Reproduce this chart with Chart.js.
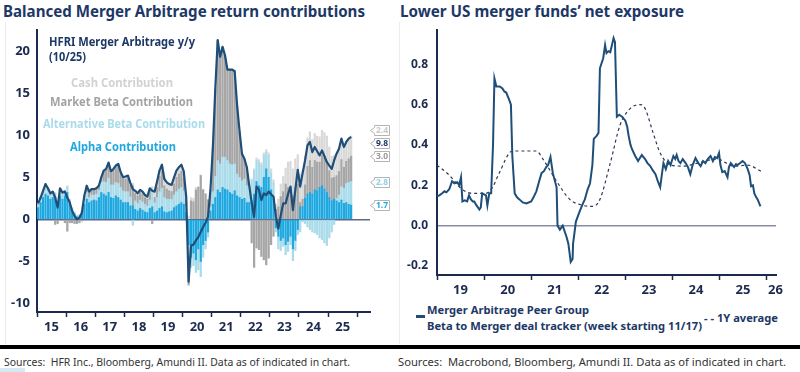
<!DOCTYPE html>
<html>
<head>
<meta charset="utf-8">
<script src="https://cdn.jsdelivr.net/npm/chart.js@4.4.1/dist/chart.umd.min.js"></script>
<style>
  html, body { margin: 0; padding: 0; }
  body { width: 800px; height: 372px; position: relative; overflow: hidden; background: #fff; font-family: 'Noto Sans', sans-serif; }
  .txt { position: absolute; white-space: nowrap; transform-origin: 0 50%; }
  .title { font-weight: 700; font-size: 16.5px; line-height: 20px; color: #1d3866; }
  .lbl { font-weight: 700; font-size: 12px; line-height: 15px; }
  .leg { font-weight: 700; font-size: 11px; line-height: 14px; color: #1d3866; }
  .src { font-size: 11px; line-height: 14px; color: #333; }
  canvas { position: absolute; }
  .rule { position: absolute; }
</style>
</head>
<body>
<div class="txt title" data-w="362" style="left:3px;top:1px">Balanced Merger Arbitrage return contributions</div>
<div class="txt title" data-w="284" style="left:400px;top:1px">Lower US merger funds’ net exposure</div>

<div class="rule" style="left:5px;top:22px;width:1px;height:322px;background:#ececec"></div>
<div class="rule" style="left:399px;top:22px;width:1px;height:322px;background:#ececec"></div>

<canvas id="contribChart" width="400" height="320" style="left:0;top:25px"></canvas>
<canvas id="betaChart" width="400" height="275" style="left:400px;top:25px"></canvas>

<!-- left chart labels -->
<div class="txt lbl" data-w="146" style="left:49px;top:34px;color:#1d3866">HFRI Merger Arbitrage y/y</div>
<div class="txt lbl" data-w="37" style="left:49px;top:49px;color:#1d3866">(10/25)</div>
<div class="txt lbl" data-w="102" style="left:71px;top:75px;color:#d2d2d2">Cash Contribution</div>
<div class="txt lbl" data-w="143" style="left:50px;top:94px;color:#a3a3a3">Market Beta Contribution</div>
<div class="txt lbl" data-w="162" style="left:43px;top:116px;color:#a9dbea">Alternative Beta Contribution</div>
<div class="txt lbl" data-w="106" style="left:70px;top:139px;color:#1fa8e0">Alpha Contribution</div>

<!-- right chart legend -->
<div class="rule" style="left:416px;top:315px;width:9px;height:2.5px;background:#1f4e79"></div>
<div class="txt leg" data-w="162" style="left:427px;top:303px">Merger Arbitrage Peer Group</div>
<div class="txt leg" data-w="275" style="left:427px;top:319px">Beta to Merger deal tracker (week starting 11/17)</div>
<div class="txt leg" data-w="74" style="left:704px;top:311px">- - 1Y average</div>

<div class="rule" style="left:0;top:345px;width:800px;height:4px;background:#000"></div>
<div class="txt src" data-w="346" style="left:4px;top:355px">Sources:&nbsp; HFR Inc., Bloomberg, Amundi II. Data as of indicated in chart.</div>
<div class="txt src" data-w="388" style="left:398px;top:355px">Sources:&nbsp; Macrobond, Bloomberg, Amundi II. Data as of indicated in chart.</div>
<div class="rule" style="left:0;top:368px;width:25px;height:4px;background:#d5e8f3"></div>

<script>
// ---- left chart: monthly y/y contributions, Jan 2015 .. Oct 2025 ----
const contribStartYear = 2015;
const contribYears = [2015, 2016, 2017, 2018, 2019, 2020, 2021, 2022, 2023, 2024, 2025];
const contribYearLabels = ['15', '16', '17', '18', '19', '20', '21', '22', '23', '24', '25'];
const contribYTicks = [-10, -5, 0, 5, 10, 15, 20];

const hfriYoY = [
  1.9, 2.6, 3.4, 4.2, 3.7, 3.1, 3.3, 2.6, 1.4, 3.7, 3.2, 3.3,
  2.6, 2.0, 1.0, 0.4, 0.0, 0.2, 0.8, 2.8, 4.0, 3.3, 3.6, 3.6,
  3.7, 4.0, 5.0, 5.8, 6.0, 6.75, 5.7, 6.0, 6.4, 6.6, 5.6, 5.0,
  5.1, 5.2, 4.3, 3.6, 3.4, 3.1, 3.5, 3.3, 2.9, 2.7, 3.7, 3.4,
  3.3, 4.5, 5.8, 6.5, 4.8, 4.4, 4.2, 4.1, 5.0, 5.8, 6.2, 6.5,
  5.7, 2.7, -7.4, -3.1, -3.0, -2.5, -2.1, -1.5, -0.9, -0.4, 0.3, 3.5,
  8.5, 15.5, 21.3, 19.3, 20.5, 19.5, 17.8, 17.8, 17.8, 17.6, 13.5, 10.5,
  7.8, 7.2, 6.2, 4.0, 2.0, 0.3, 3.9, 3.5, 2.3, 3.1, 2.9, 3.3,
  3.0, 2.7, 0.3, -1.1, 0.5, 1.9, 1.9, 3.0, 3.9, 1.1, 3.5, 5.9,
  3.9, 5.5, 7.0, 8.8, 9.2, 8.0, 8.6, 8.1, 7.6, 8.2, 7.5, 6.8,
  6.4, 6.0, 7.0, 7.8, 8.4, 9.6, 8.6, 9.2, 9.6, 9.8
];
const alphaContrib = [
  1.4, 2.0, 2.6, 3.0, 2.8, 2.4, 2.6, 2.6, 1.6, 2.8, 2.4, 2.8,
  3.2, 1.8, 0.9, 0.6, 0.3, 0.3, 0.6, 1.8, 2.4, 2.0, 2.2, 2.3,
  2.2, 2.6, 3.2, 3.0, 2.8, 3.2, 2.6, 2.5, 2.8, 2.6, 2.3, 2.0,
  2.0, 2.0, 1.6, 1.6, 1.2, 1.0, 1.3, 1.1, 0.9, 0.8, 1.3, 1.5,
  0.8, 1.0, 1.3, 1.5, 0.9, 0.8, 0.9, 1.0, 1.4, 1.6, 1.8, 2.0,
  1.8, 0.8, -3.0, -4.5, -4.0, -4.8, -3.5, -5.0, -3.0, -2.5, -1.5, 1.0,
  1.8, 2.6, 3.5, 3.2, 3.8, 3.6, 3.5, 3.2, 3.0, 3.4, 2.8, 2.6,
  2.4, 2.5, 2.0, 2.0, 2.2, 3.0, 4.5, 4.0, 3.8, 5.0, 6.0, 5.0,
  3.5, 2.5, -1.0, -2.0, -2.5, -2.2, -3.0, -2.6, -2.0, -3.5, -2.5, -1.2,
  1.5, 1.5, 2.5, 3.0, 3.2, 3.0, 3.5, 3.4, 3.8, 4.0, 3.6, 3.2,
  2.6, 2.2, 2.4, 2.2, 2.0, 2.3, 1.9, 2.0, 1.8, 1.7
];
const altBetaContrib = [
  0.3, 0.4, 0.5, 0.8, 0.6, 0.5, 0.4, 0.5, 0.3, 0.5, 0.6, 0.6,
  0.7, 0.5, 0.4, 0.2, 0.1, 0.2, 0.3, 0.6, 0.8, 0.6, 0.7, 0.6,
  0.8, 0.9, 1.2, 1.5, 1.6, 1.7, 1.5, 1.6, 1.6, 1.7, 1.5, 1.4,
  1.3, 1.3, 1.1, -0.7, 1.0, 0.9, 1.0, 1.0, 0.9, 0.8, 1.0, 2.0,
  1.2, 1.6, 2.0, 2.2, 1.7, 1.6, 1.5, 1.4, 1.5, 1.7, 1.8, 1.8,
  1.6, 0.8, -2.5, -1.2, -1.5, -1.5, -2.5, -1.8, -1.5, -1.0, -0.6, 0.5,
  1.5, 2.5, 3.5, 3.4, 3.6, 3.8, 3.5, 3.4, 3.5, 3.2, 2.6, 2.4,
  2.2, 2.3, 2.0, 1.8, 2.4, 2.8, 2.5, 2.8, 2.6, 2.6, 2.0, 2.6,
  2.0, 1.8, -0.5, -1.5, -1.2, -1.0, -1.2, -1.2, -1.0, -1.4, -1.2, -0.6,
  -1.5, -0.3, -0.5, -0.9, -1.2, -1.5, -1.6, -1.8, -2.2, -2.4, -2.8, -3.1,
  -2.2, -1.5, -0.6, 0.3, 0.9, 1.6, 1.8, 2.3, 2.6, 2.8
];
const mktBetaContrib = [
  0.2, 0.2, 0.3, 0.4, 0.3, 0.2, 0.3, -0.6, -0.5, 0.4, 0.2, -0.4,
  -1.4, -0.4, -0.4, -0.5, -0.5, -0.4, -0.2, 0.3, 0.7, 0.6, 0.6, 0.6,
  0.6, 0.4, 0.5, 1.2, 1.5, 1.7, 1.4, 1.7, 1.8, 2.1, 1.6, 1.4,
  1.5, 1.6, 1.3, 2.4, 0.9, 0.9, 0.9, 0.9, 0.8, 0.8, 1.1, -0.5,
  0.6, 1.2, 1.8, 2.0, 1.4, 1.2, 1.0, 0.9, 1.3, 1.7, 1.8, 1.9,
  1.5, 0.5, -2.3, 2.2, 2.1, 3.5, 3.8, 5.2, 3.5, 3.0, 2.3, 1.9,
  5.1, 10.3, 14.2, 12.6, 13.0, 12.0, 10.7, 11.1, 11.2, 10.9, 8.0, 5.4,
  3.1, 2.3, 2.1, 0.1, -2.8, -5.7, -3.4, -3.6, -4.4, -4.8, -5.4, -4.6,
  -3.0, -2.0, 1.2, 1.5, 2.7, 3.3, 4.2, 3.8, 3.8, 2.8, 3.8, 4.2,
  0.5, 0.9, 1.6, 3.3, 3.8, 3.2, 3.5, 3.4, 3.0, 3.6, 3.7, 3.7,
  3.2, 2.7, 2.6, 2.7, 2.8, 3.2, 2.5, 2.6, 2.8, 3.0
];
const cashContrib = [
  0, 0, 0, 0, 0, 0, 0, 0.1, 0, 0, 0, 0.1,
  0.1, 0.1, 0.1, 0.1, 0.1, 0.1, 0.1, 0.1, 0.1, 0.1, 0.1, 0.1,
  0.1, 0.1, 0.1, 0.1, 0.1, 0.15, 0.2, 0.2, 0.2, 0.2, 0.2, 0.2,
  0.3, 0.3, 0.3, 0.3, 0.3, 0.3, 0.3, 0.3, 0.3, 0.3, 0.3, 0.4,
  0.7, 0.7, 0.7, 0.8, 0.8, 0.8, 0.8, 0.8, 0.8, 0.8, 0.8, 0.8,
  0.8, 0.6, 0.4, 0.4, 0.4, 0.3, 0.1, 0.1, 0.1, 0.1, 0.1, 0.1,
  0.1, 0.1, 0.1, 0.1, 0.1, 0.1, 0.1, 0.1, 0.1, 0.1, 0.1, 0.1,
  0.1, 0.1, 0.1, 0.1, 0.2, 0.2, 0.3, 0.3, 0.3, 0.3, 0.3, 0.3,
  0.5, 0.4, 0.6, 0.9, 1.5, 1.8, 1.9, 3.0, 3.1, 3.2, 3.4, 3.5,
  3.4, 3.4, 3.4, 3.4, 3.4, 3.3, 3.2, 3.1, 3.0, 3.0, 3.0, 3.0,
  2.8, 2.6, 2.6, 2.6, 2.7, 2.5, 2.4, 2.3, 2.4, 2.4
];

// ---- right chart: beta to merger deal tracker ----
const betaYears = [2019, 2020, 2021, 2022, 2023, 2024, 2025, 2026];
const betaYearLabels = ['19', '20', '21', '22', '23', '24', '25', '26'];
const betaYTicks = [-0.2, 0, 0.2, 0.4, 0.6, 0.8];

const betaDates = [
  2019.00, 2019.05, 2019.11, 2019.16, 2019.20, 2019.26, 2019.29, 2019.32, 2019.37, 2019.43,
  2019.47, 2019.51, 2019.54, 2019.59, 2019.64, 2019.68, 2019.72, 2019.76, 2019.79, 2019.84,
  2019.90, 2019.93, 2019.96, 2020.00, 2020.04, 2020.07, 2020.11, 2020.15, 2020.19, 2020.22,
  2020.26, 2020.33, 2020.39, 2020.43, 2020.47, 2020.54, 2020.57, 2020.60, 2020.65, 2020.70,
  2020.75, 2020.82, 2020.90, 2021.00, 2021.05, 2021.11, 2021.17, 2021.22, 2021.27, 2021.32,
  2021.36, 2021.41, 2021.46, 2021.54, 2021.56, 2021.61, 2021.67, 2021.75, 2021.79, 2021.84,
  2021.88, 2021.89, 2021.95, 2022.03, 2022.10, 2022.14, 2022.20, 2022.25, 2022.30, 2022.33,
  2022.39, 2022.43, 2022.46, 2022.53, 2022.57, 2022.60, 2022.64, 2022.68, 2022.75, 2022.78,
  2022.82, 2022.87, 2022.93, 2023.00, 2023.04, 2023.07, 2023.11, 2023.14, 2023.18, 2023.21,
  2023.27, 2023.31, 2023.35, 2023.42, 2023.47, 2023.53, 2023.58, 2023.64, 2023.69, 2023.74,
  2023.78, 2023.81, 2023.86, 2023.91, 2023.96, 2024.02, 2024.06, 2024.09, 2024.13, 2024.17,
  2024.22, 2024.28, 2024.33, 2024.38, 2024.43, 2024.49, 2024.55, 2024.60, 2024.65, 2024.70,
  2024.75, 2024.81, 2024.86, 2024.90, 2024.95, 2024.99, 2025.02, 2025.06, 2025.11, 2025.17,
  2025.20, 2025.24, 2025.31, 2025.35, 2025.38, 2025.44, 2025.49, 2025.54, 2025.60, 2025.64,
  2025.67, 2025.71, 2025.74, 2025.78, 2025.81, 2025.87
];
const betaValues = [
  0.145, 0.15, 0.16, 0.17, 0.165, 0.18, 0.20, 0.22, 0.21, 0.215,
  0.20, 0.24, 0.12, 0.125, 0.12, 0.15, 0.13, 0.12, 0.12, 0.10,
  0.08, 0.09, 0.16, 0.155, 0.15, 0.10, 0.16, 0.16, 0.40, 0.73,
  0.69, 0.69, 0.68, 0.665, 0.66, 0.62, 0.60, 0.345, 0.16, 0.14,
  0.13, 0.115, 0.11, 0.12, 0.14, 0.17, 0.22, 0.26, 0.27, 0.29,
  0.30, 0.34, 0.26, 0.19, 0.0, -0.02, 0.0, -0.055, -0.09, -0.18,
  -0.165, -0.09, 0.02, 0.07, 0.11, 0.13, 0.18, 0.21, 0.30, 0.43,
  0.445, 0.46, 0.78, 0.83, 0.895, 0.855, 0.865, 0.86, 0.93, 0.91,
  0.54, 0.55, 0.54, 0.52, 0.49, 0.445, 0.40, 0.38, 0.36, 0.345,
  0.32, 0.335, 0.35, 0.33, 0.31, 0.295, 0.275, 0.255, 0.22, 0.19,
  0.26, 0.31, 0.28, 0.32, 0.30, 0.345, 0.33, 0.35, 0.32, 0.31,
  0.33, 0.31, 0.29, 0.255, 0.30, 0.335, 0.31, 0.295, 0.32, 0.31,
  0.33, 0.345, 0.32, 0.34, 0.335, 0.36, 0.30, 0.265, 0.27, 0.24,
  0.29, 0.31, 0.29, 0.305, 0.30, 0.31, 0.32, 0.31, 0.28, 0.25,
  0.195, 0.20, 0.16, 0.14, 0.13, 0.095
];
const avgDates = [
  2019.00, 2019.26, 2019.53, 2019.75, 2020.04, 2020.18, 2020.32, 2020.60, 2021.11, 2021.25,
  2021.54, 2021.82, 2022.10, 2022.31, 2022.46, 2022.68, 2022.89, 2023.10, 2023.32, 2023.42,
  2023.59, 2023.74, 2023.96, 2024.24, 2024.53, 2024.95, 2025.30, 2025.60, 2025.88
];
const avgValues = [
  0.30, 0.25, 0.18, 0.16, 0.16, 0.19, 0.26, 0.37, 0.37, 0.33,
  0.22, 0.13, 0.10, 0.095, 0.13, 0.31, 0.50, 0.58, 0.60, 0.58,
  0.46, 0.36, 0.30, 0.295, 0.31, 0.33, 0.295, 0.30, 0.27
];

// ---- colours ----
const navy = '#1b2a4e';
const lineNavy = '#1f4e79';
const alphaColor = '#1fa8e0';
const altBetaColor = '#a9dbea';
const mktBetaColor = '#a6a6a6';
const cashColor = '#d9d9d9';

Chart.defaults.font.family = "'Noto Sans', sans-serif";
Chart.defaults.animation = false;

const tickFont = { size: 13, weight: 'bold' };

// tick marks on year boundaries, labels in the middle of each year
const yearAxisTicks = (years, labels, xMax) => {
  const ticks = [];
  const names = new Map();
  years.forEach((y, i) => {
    ticks.push(y);
    const mid = Math.min(y + 0.5, xMax - 0.01);
    ticks.push(mid);
    names.set(mid, labels[i]);
  });
  return { ticks, names };
};

// no extra room for half labels at the ends of the axes
const noEdgePadding = ax => {
  ax.paddingTop = 0; ax.paddingBottom = 0; ax.paddingLeft = 0; ax.paddingRight = 0;
};

// small callout boxes at the right of the contributions chart
const badgePlugin = {
  id: 'badges',
  afterDatasetsDraw(chart) {
    const { ctx, chartArea, scales: { y } } = chart;
    const n = hfriYoY.length - 1;
    const parts = [
      { v: alphaContrib[n], color: alphaColor },
      { v: altBetaContrib[n], color: '#8fd0e4' },
      { v: mktBetaContrib[n], color: '#9a9a9a' },
      { v: cashContrib[n], color: '#c8c8c8' }
    ];
    let cum = 0;
    const items = parts.map(p => { cum += p.v; return { text: p.v.toFixed(1), color: p.color, y: y.getPixelForValue(cum) }; });
    items.push({ text: hfriYoY[n].toFixed(1), color: '#1d3866', y: y.getPixelForValue(hfriYoY[n]) });
    items.sort((a, b) => a.y - b.y);
    const gap = 12.5;
    for (let pass = 0; pass < 20; pass++) {
      for (let i = 1; i < items.length; i++) {
        const d = items[i].y - items[i - 1].y;
        if (d < gap) {
          const push = (gap - d) / 2;
          items[i].y += push;
          items[i - 1].y -= push;
        }
      }
    }
    const x0 = chartArea.right + 4.5;
    ctx.save();
    ctx.font = "bold 8.5px 'Noto Sans', sans-serif";
    ctx.textAlign = 'center';
    ctx.textBaseline = 'middle';
    items.forEach(it => {
      const yc = Math.round(it.y) + 0.5;
      ctx.beginPath();
      ctx.moveTo(x0, yc - 5);
      ctx.lineTo(x0 + 15, yc - 5);
      ctx.lineTo(x0 + 15, yc + 5);
      ctx.lineTo(x0, yc + 5);
      ctx.lineTo(x0, yc + 3);
      ctx.lineTo(x0 - 4, yc);
      ctx.lineTo(x0, yc - 3);
      ctx.closePath();
      ctx.fillStyle = '#fff';
      ctx.fill();
      ctx.strokeStyle = '#b4b4b4';
      ctx.lineWidth = 1;
      ctx.stroke();
      ctx.fillStyle = it.color;
      ctx.fillText(it.text, x0 + 7.5, yc + 0.5);
    });
    ctx.restore();
  }
};

// ---- left chart ----
const contribX = hfriYoY.map((_, i) => contribStartYear + (i + 0.5) / 12);
const contribXMax = 2026.44;
const leftAxis = yearAxisTicks(contribYears.concat([2026]), contribYearLabels.concat(['']), contribXMax);

const barSet = (label, data, color) => ({
  type: 'bar', label, data, backgroundColor: color, borderWidth: 0,
  barThickness: 1.6, stack: 'contrib', order: 1
});

new Chart(document.getElementById('contribChart'), {
  type: 'bar',
  data: {
    labels: contribX,
    datasets: [
      { type: 'line', label: 'HFRI Merger Arbitrage y/y', data: hfriYoY, borderColor: lineNavy,
        borderWidth: 2.2, pointRadius: 0, tension: 0, stack: 'hfri', order: 0, borderJoinStyle: 'round' },
      barSet('Alpha Contribution', alphaContrib, alphaColor),
      barSet('Alternative Beta Contribution', altBetaContrib, altBetaColor),
      barSet('Market Beta Contribution', mktBetaContrib, mktBetaColor),
      barSet('Cash Contribution', cashContrib, cashColor)
    ]
  },
  options: {
    responsive: false,
    layout: { padding: { left: 0, right: 30, top: 5, bottom: 0 } },
    plugins: { legend: { display: false }, tooltip: { enabled: false } },
    scales: {
      x: {
        type: 'linear', min: contribStartYear, max: contribXMax, stacked: true, offset: false,
        afterBuildTicks: ax => { ax.ticks = leftAxis.ticks.map(v => ({ value: v })); },
        afterFit: ax => { ax.height = 33; noEdgePadding(ax); },
        ticks: { autoSkip: false, maxRotation: 0, padding: 2, color: navy, font: tickFont,
          callback: v => leftAxis.names.get(v) || '' },
        grid: { offset: false, drawOnChartArea: false, drawTicks: true, tickLength: 5, tickWidth: 1.5,
          tickColor: c => (c.tick && Number.isInteger(c.tick.value)) ? navy : 'rgba(0,0,0,0)' },
        border: { color: navy, width: 2 }
      },
      y: {
        type: 'linear', min: -11, max: 22.5, stacked: true,
        afterBuildTicks: ax => { ax.ticks = contribYTicks.map(v => ({ value: v })); },
        afterFit: ax => { ax.width = 37; noEdgePadding(ax); },
        ticks: { color: navy, font: tickFont, padding: 7 },
        grid: { drawTicks: false, lineWidth: 1.5,
          color: c => (c.tick && c.tick.value === 0) ? '#5e6785' : 'rgba(0,0,0,0)' },
        border: { color: navy, width: 2 }
      }
    }
  },
  plugins: [badgePlugin]
});

// ---- right chart ----
const betaXMax = 2026.2;
const rightAxis = yearAxisTicks(betaYears, betaYearLabels, betaXMax);

new Chart(document.getElementById('betaChart'), {
  type: 'line',
  data: {
    datasets: [
      { label: 'Merger Arbitrage Peer Group Beta to Merger deal tracker (week starting 11/17)',
        data: betaDates.map((x, i) => ({ x, y: betaValues[i] })),
        borderColor: lineNavy, borderWidth: 2, pointRadius: 0, tension: 0, order: 0 },
      { label: '1Y average',
        data: avgDates.map((x, i) => ({ x, y: avgValues[i] })),
        borderColor: '#2c3656', borderWidth: 1.2, borderDash: [3, 3], pointRadius: 0,
        tension: 0.4, cubicInterpolationMode: 'monotone', order: 1 }
    ]
  },
  options: {
    responsive: false,
    layout: { padding: { left: 0, right: 24, top: 5, bottom: 0 } },
    plugins: { legend: { display: false }, tooltip: { enabled: false } },
    scales: {
      x: {
        type: 'linear', min: 2019, max: betaXMax,
        afterBuildTicks: ax => { ax.ticks = rightAxis.ticks.map(v => ({ value: v })); },
        afterFit: ax => { ax.height = 25; noEdgePadding(ax); },
        ticks: { autoSkip: false, maxRotation: 0, padding: 2, color: navy, font: tickFont,
          callback: v => rightAxis.names.get(v) || '' },
        grid: { drawOnChartArea: false, drawTicks: true, tickLength: 5, tickWidth: 1.5,
          tickColor: c => (c.tick && Number.isInteger(c.tick.value)) ? navy : 'rgba(0,0,0,0)' },
        border: { color: navy, width: 2 }
      },
      y: {
        type: 'linear', min: -0.245, max: 0.97,
        afterBuildTicks: ax => { ax.ticks = betaYTicks.map(v => ({ value: v })); },
        afterFit: ax => { ax.width = 37; noEdgePadding(ax); },
        ticks: { color: navy, font: { size: 12, weight: 'bold' }, padding: 9, callback: v => v.toFixed(1) },
        grid: { drawTicks: false, lineWidth: 1.5,
          color: c => (c.tick && c.tick.value === 0) ? '#878ca2' : 'rgba(0,0,0,0)' },
        border: { color: navy, width: 2 }
      }
    }
  }
});

// squeeze the html texts to the widths measured on the reference
document.querySelectorAll('[data-w]').forEach(el => {
  const w = el.getBoundingClientRect().width;
  el.style.transform = 'scaleX(' + (Number(el.dataset.w) / w) + ')';
});
</script>
</body>
</html>
